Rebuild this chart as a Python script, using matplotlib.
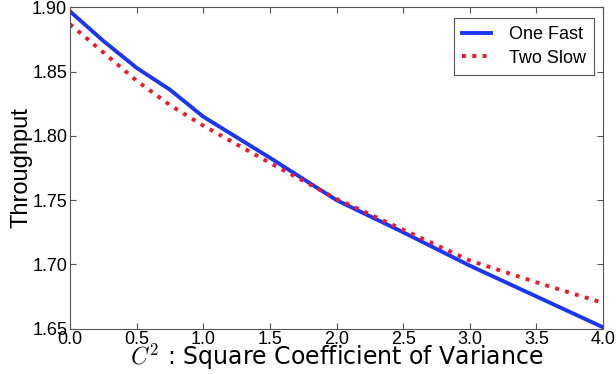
import matplotlib
matplotlib.use('Agg')
from matplotlib import pyplot as plt

plt.rcParams['font.family'] = ['Liberation Sans', 'DejaVu Sans']
plt.rcParams['mathtext.fontset'] = 'cm'

# data
c2 = [0.0, 0.25, 0.5, 0.75, 1.0, 1.5, 2.0, 2.5, 3.0, 3.5, 4.0]
one_fast = [1.897, 1.874, 1.853, 1.836, 1.815, 1.783, 1.750, 1.725, 1.699, 1.675, 1.651]
two_slow = [1.887, 1.865, 1.843, 1.824, 1.808, 1.779, 1.751, 1.727, 1.703, 1.686, 1.670]

fig = plt.figure(figsize=(6.16, 3.74), dpi=100)
ax = fig.add_axes([0.1136, 0.1214, 0.8654, 0.8586])

ax.plot(c2, one_fast, color='#1a36f2', lw=2.8, label='One Fast')
ax.plot(c2, two_slow, color='#f5162a', lw=2.8, ls=':', label='Two Slow')

ax.set_xlim(0, 4)
ax.set_ylim(1.65, 1.90)
ax.set_xticks([0.0, 0.5, 1.0, 1.5, 2.0, 2.5, 3.0, 3.5, 4.0])
ax.set_yticks([1.65, 1.70, 1.75, 1.80, 1.85, 1.90])
ax.xaxis.set_major_formatter(matplotlib.ticker.FormatStrFormatter('%.1f'))
ax.yaxis.set_major_formatter(matplotlib.ticker.FormatStrFormatter('%.2f'))
ax.tick_params(direction='in', top=True, right=True, labelsize=13,
               length=4, color='#555555', pad=2)
for s in ax.spines.values():
    s.set_color('#555555')

ax.set_xlabel(r'$C^2$ : Square Coefficient of Variance', fontsize=17,
              family='DejaVu Sans', labelpad=-5)
ax.set_ylabel('Throughput', fontsize=17, labelpad=0)

leg = ax.legend(loc='upper right', fontsize=13, fancybox=False, framealpha=1,
                edgecolor='#555555', handlelength=1.6, borderpad=0.45,
                handletextpad=1.0, labelspacing=0.35,
                bbox_to_anchor=(1.0, 0.995))
leg.get_frame().set_linewidth(0.8)

fig.savefig('out.png', dpi=100)
